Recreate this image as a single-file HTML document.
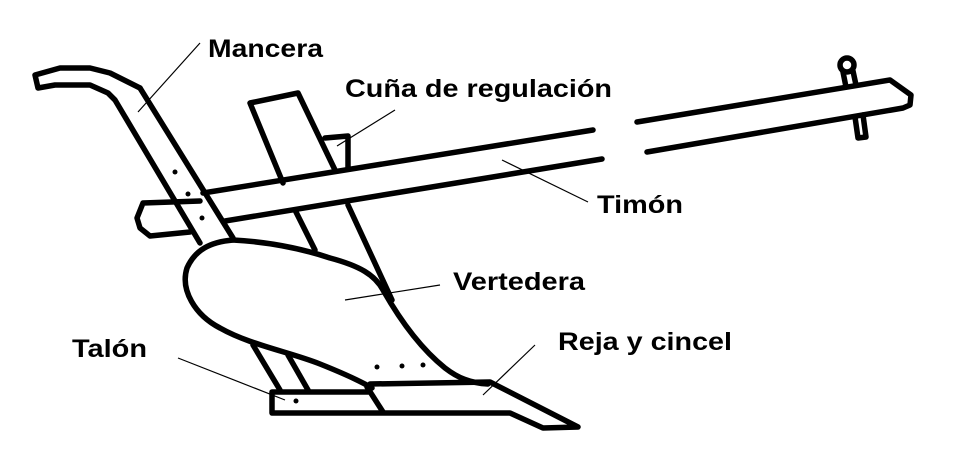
<!DOCTYPE html>
<html><head><style>
html,body{margin:0;padding:0;background:#fff;width:954px;height:454px;overflow:hidden}
text{font-family:"Liberation Sans",Arial,sans-serif;font-weight:bold;font-size:25px;fill:#000}
</style></head><body>
<svg width="954" height="454" viewBox="0 0 954 454" xmlns="http://www.w3.org/2000/svg">
<g fill="none" stroke="#000" stroke-width="5.5" stroke-linejoin="round" stroke-linecap="round">
<path d="M140,88 L110,73 L90,68 L60,68 L35,75 L38,88 L55,85 L90,85 L108,93 L115,100 L200,243"/>
<path d="M140,88 L233,238"/>
<path d="M283,183 L250,103 L298,93 L335,170"/>
<path d="M295,210 L315,250"/>
<path d="M348,205 L392,300"/>
<path d="M253,345 L280,390"/>
<path d="M288,355 L308,390"/>
<path d="M325,138 L348,136 L348,168"/>
<path d="M203,193 L593,130"/>
<path d="M225,221 L602,159"/>
<path d="M200,201 L143,203 L137,218 L140,228 L150,236 L190,232"/>
<path d="M637,122 L890,80 L911,95 L910,105 L903,108 L647,152"/>
<circle cx="847" cy="65" r="7"/>
<path d="M843,72 L846,87 M853,71 L856,85"/>
<path d="M855,117 L858,138 L866,137 L863,115"/>
<path d="M233,240 C210,242 195,250 187,268 C180,290 195,315 220,328 C250,345 290,352 320,364 C345,374 362,382 372,388"/>
<path d="M233,240 C270,242 300,248 330,258 C360,266 375,275 383,290 C400,320 420,348 445,368 C458,378 470,383 488,384"/>
<path d="M370,384 L490,382 L578,427 L543,428 L510,413 L272,413 L272,392 L368,392"/>
<path d="M367,387 L383,412"/>
</g>
<g fill="#000">
<circle cx="175" cy="172" r="2.5"/><circle cx="188" cy="194" r="2.5"/><circle cx="202" cy="218" r="2.5"/>
<circle cx="377" cy="367" r="2.5"/><circle cx="402" cy="366" r="2.5"/><circle cx="423" cy="365" r="2.5"/>
<circle cx="296" cy="401" r="2.5"/>
</g>
<g stroke="#000" stroke-width="1.2">
<line x1="200" y1="43" x2="138" y2="112"/>
<line x1="395" y1="110" x2="337" y2="146"/>
<line x1="588" y1="202" x2="502" y2="160"/>
<line x1="440" y1="285" x2="345" y2="300"/>
<line x1="535" y1="345" x2="483" y2="395"/>
<line x1="178" y1="358" x2="285" y2="400"/>
</g>
<text x="208" y="57" textLength="115" lengthAdjust="spacingAndGlyphs">Mancera</text>
<text x="345" y="97" textLength="267" lengthAdjust="spacingAndGlyphs">Cuña de regulación</text>
<text x="597" y="213" textLength="86" lengthAdjust="spacingAndGlyphs">Timón</text>
<text x="453" y="290" textLength="132" lengthAdjust="spacingAndGlyphs">Vertedera</text>
<text x="558" y="350" textLength="174" lengthAdjust="spacingAndGlyphs">Reja y cincel</text>
<text x="72" y="357" textLength="75" lengthAdjust="spacingAndGlyphs">Talón</text>
</svg>
</body></html>
